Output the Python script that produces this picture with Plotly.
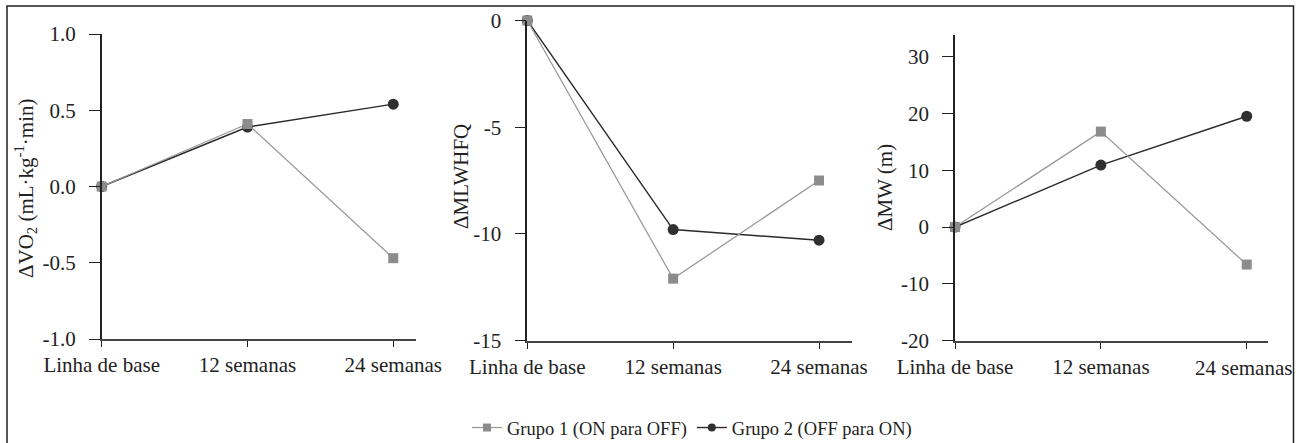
import plotly.graph_objects as go

# Time points shared by all three panels
timepoints = ["Linha de base", "12 semanas", "24 semanas"]
x_idx = [0, 1, 2]

# Change in peak VO2 (mL·kg-1·min)
vo2_g1 = [0.0, 0.41, -0.47]
vo2_g2 = [0.0, 0.39, 0.54]

# Change in MLWHFQ score
mlwhfq_g1 = [0.0, -12.1, -7.5]
mlwhfq_g2 = [0.0, -9.8, -10.3]

# Change in walked distance (m)
mw_g1 = [0.0, 16.8, -6.6]
mw_g2 = [0.0, 10.9, 19.5]

group_names = ["Grupo 1 (ON para OFF)", "Grupo 2 (OFF para ON)"]

vo2_ticks = [-1.0, -0.5, 0.0, 0.5, 1.0]
vo2_ticktext = ["-1.0", "-0.5", "0.0", "0.5", "1.0"]
mlwhfq_ticks = [-15, -10, -5, 0]
mlwhfq_ticktext = ["-15", "-10", "-5", "0"]
mw_ticks = [-20, -10, 0, 10, 20, 30]
mw_ticktext = ["-20", "-10", "0", "10", "20", "30"]

W, H = 1302, 443
FONT = "Liberation Serif, DejaVu Serif, serif"
GRAY_LINE = "#9a9a9a"
GRAY_MARK = "#8c8c8c"
DARK_LINE = "#2a2a2a"
DARK_MARK = "#303030"
AXIS = "#222222"
TEXT = "#222222"


def px_x(v):
    return v / W


def px_y(v):
    return (H - v) / H


fig = go.Figure()

panels = [
    ("x", "y", vo2_g1, vo2_g2),
    ("x2", "y2", mlwhfq_g1, mlwhfq_g2),
    ("x3", "y3", mw_g1, mw_g2),
]

for xa, ya, g1, g2 in panels:
    fig.add_trace(go.Scatter(
        x=x_idx, y=g2, xaxis=xa, yaxis=ya, mode="lines+markers",
        line=dict(color=DARK_LINE, width=1.4),
        marker=dict(symbol="circle", size=11, color=DARK_MARK),
        cliponaxis=False, showlegend=False, name=group_names[1],
    ))
    fig.add_trace(go.Scatter(
        x=x_idx, y=g1, xaxis=xa, yaxis=ya, mode="lines+markers",
        line=dict(color=GRAY_LINE, width=1.3),
        marker=dict(symbol="square", size=10, color=GRAY_MARK),
        cliponaxis=False, showlegend=False, name=group_names[0],
    ))

# Legend entries with smaller symbols
fig.add_trace(go.Scatter(
    x=[None], y=[None], mode="lines+markers", name=group_names[0],
    line=dict(color=GRAY_LINE, width=1.3),
    marker=dict(symbol="square", size=8, color=GRAY_MARK), legendrank=1,
))
fig.add_trace(go.Scatter(
    x=[None], y=[None], mode="lines+markers", name=group_names[1],
    line=dict(color=DARK_LINE, width=1.4),
    marker=dict(symbol="circle", size=8, color=DARK_MARK), legendrank=2,
))

tick_font = dict(family=FONT, size=21, color=TEXT)


def xaxis_cfg(left, right, rmax, ticktext):
    return dict(
        domain=[px_x(left), px_x(right)], range=[0, rmax],
        tickvals=x_idx, ticktext=ticktext, ticks="outside", ticklen=6,
        tickwidth=1.2, tickcolor=AXIS, showline=True, linecolor="#444444",
        linewidth=2, showgrid=False, zeroline=False, tickfont=tick_font,
        fixedrange=True, automargin=False,
    )


def yaxis_cfg(bottom, top, rng, tickvals, ticktext, anchor):
    return dict(
        domain=[px_y(bottom), px_y(top)], range=rng, anchor=anchor,
        tickvals=tickvals, ticktext=ticktext, ticks="outside", ticklen=11,
        tickwidth=1.2, tickcolor=AXIS, showline=True, linecolor=AXIS,
        linewidth=1.5, showgrid=False, zeroline=False, tickfont=tick_font,
        ticklabelstandoff=9, fixedrange=True, automargin=False,
    )


fig.update_layout(
    template="none",
    width=W, height=H,
    margin=dict(l=0, r=0, t=0, b=0, autoexpand=False),
    paper_bgcolor="white", plot_bgcolor="white",
    font=dict(family=FONT, size=21, color=TEXT),
    xaxis=xaxis_cfg(101.7, 416, 2.156, timepoints) | dict(anchor="y"),
    xaxis2=xaxis_cfg(527.3, 851.7, 2.224, timepoints) | dict(anchor="y2"),
    xaxis3=xaxis_cfg(955, 1268.3, 2.148, timepoints[:2] + [" "]) | dict(anchor="y3"),
    yaxis=yaxis_cfg(339, 34, [-1, 1], vo2_ticks, vo2_ticktext, "x"),
    yaxis2=yaxis_cfg(340.5, 20.5, [-15, 0], mlwhfq_ticks, mlwhfq_ticktext, "x2"),
    yaxis3=yaxis_cfg(340.7, 35, [-20, 33.8], mw_ticks, mw_ticktext, "x3"),
    legend=dict(
        orientation="h", x=px_x(467), xanchor="left", y=px_y(428),
        yanchor="middle", font=dict(family=FONT, size=18.5, color=TEXT),
        bgcolor="rgba(0,0,0,0)", itemclick=False, itemdoubleclick=False,
    ),
    showlegend=True,
)

# Axis titles
titles = [
    ("ΔVO<sub>2</sub> (mL·kg<sup>-1</sup>·min)", 25, 188),
    ("ΔMLWHFQ", 461, 177),
    ("ΔMW (m)", 885, 188),
]
for text, cx, cy in titles:
    fig.add_annotation(
        text=text, x=px_x(cx), y=px_y(cy), xref="paper", yref="paper",
        textangle=-90, showarrow=False, xanchor="center", yanchor="middle",
        font=dict(family=FONT, size=21, color=TEXT),
    )

# Last time point label of the third panel sits a little lower
fig.add_annotation(
    text=timepoints[2], x=1.975, xref="x3", y=px_y(368), yref="paper",
    showarrow=False, xanchor="center", yanchor="middle",
    font=dict(family=FONT, size=21, color=TEXT),
)

# Frame around the whole figure
fig.add_shape(
    type="rect", xref="paper", yref="paper",
    x0=px_x(7), x1=px_x(1293.5), y0=px_y(6), y1=-0.05,
    line=dict(color="#222222", width=1.5), fillcolor="rgba(0,0,0,0)",
    layer="below",
)

fig.write_html("out.html")
